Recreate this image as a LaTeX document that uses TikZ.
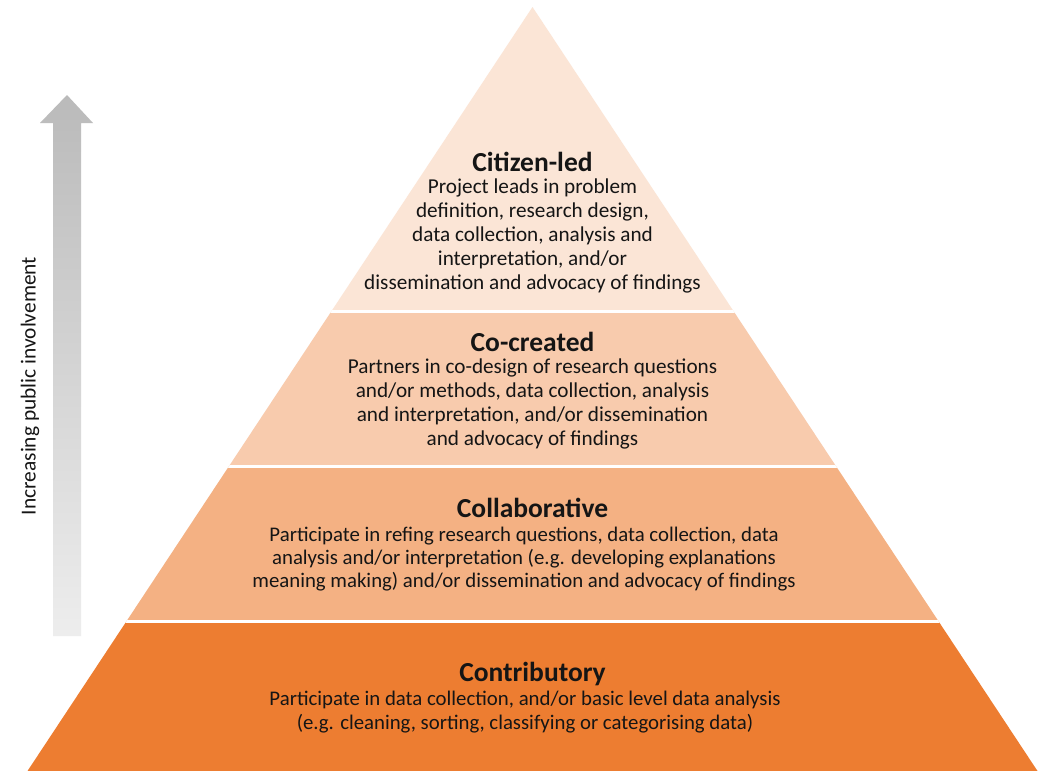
\documentclass[tikz,border=0pt]{standalone}
\usepackage{fontspec}
\setmainfont{Carlito}
\definecolor{tierA}{HTML}{FBE5D6}
\definecolor{tierB}{HTML}{F8CBAD}
\definecolor{tierC}{HTML}{F4B183}
\definecolor{tierD}{HTML}{ED7D31}
\definecolor{txt}{HTML}{151515}
\tikzset{
  ttl/.style={font=\fontsize{27.5}{30}\selectfont\bfseries, text=txt, inner sep=0pt},
  body/.style={font=\fontsize{21.2}{23.8}\selectfont, text=txt, align=center, inner sep=0pt},
  bodys/.style={body, font=\fontsize{20.8}{23.3}\selectfont},
  gap/.style={draw=white, line width=3pt}
}
\begin{document}
\begin{tikzpicture}[x=1pt,y=-1pt]
\useasboundingbox[fill=white] (0,0) rectangle (1049,771);
\begin{scope}
\clip (532.5,7) -- (1037.5,771) -- (27.5,771) -- cycle;
\fill[tierA] (0,0) rectangle (1049,311);
\fill[tierB] (0,311) rectangle (1049,466.5);
\fill[tierC] (0,466.5) rectangle (1049,621.5);
\fill[tierD] (0,621.5) rectangle (1049,771);
\draw[gap] (0,311) -- (1049,311);
\draw[gap] (0,466.5) -- (1049,466.5);
\draw[gap] (0,621.5) -- (1049,621.5);
\end{scope}
% arrow
\shade[top color=black!27, bottom color=black!7]
  (67,95) -- (93,123) -- (81,123) -- (81,636) -- (53,636) -- (53,123) -- (40,123) -- cycle;
\node[rotate=90, font=\fontsize{21.4}{24}\selectfont, text=txt, inner sep=0pt] (lbl) at (30,386) {Increasing public involvement};
% tier texts
\node[ttl] (t1) at (532.5,162) {Citizen-led};
\node[body] (b1) at (532.5,236) {Project leads in problem\\definition, research design,\\data collection, analysis and\\interpretation, and/or\\dissemination and advocacy of findings};
\node[ttl] (t2) at (532.5,342) {Co-created};
\node[body] (b2) at (532.5,404) {Partners in co-design of research questions\\and/or methods, data collection, analysis\\and interpretation, and/or dissemination\\and advocacy of findings};
\node[ttl] (t3) at (532.5,508) {Collaborative};
\node[bodys] (b3) at (524,559) {Participate in refing research questions, data collection, data\\analysis and/or interpretation (e.g. developing explanations\\meaning making) and/or dissemination and advocacy of findings};
\node[ttl] (t4) at (532.5,674) {Contributory};
\node[bodys] (b4) at (525,712) {Participate in data collection, and/or basic level data analysis\\(e.g. cleaning, sorting, classifying or categorising data)};
\end{tikzpicture}
\end{document}
